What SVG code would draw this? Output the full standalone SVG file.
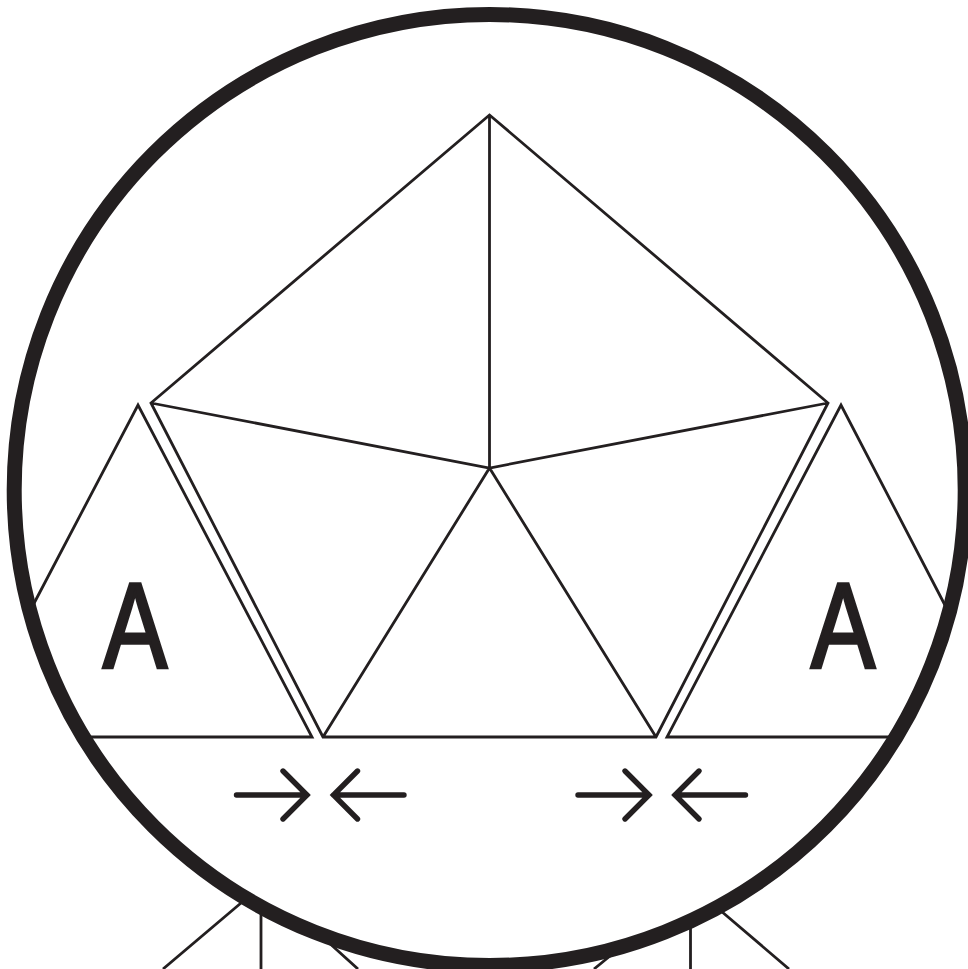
<svg xmlns="http://www.w3.org/2000/svg" width="968" height="969" viewBox="0 0 968 969">
<style>
.l{fill:none;stroke:#231f20;stroke-width:2.8;stroke-linejoin:miter}
.a{fill:none;stroke:#231f20;stroke-width:5.4;stroke-linecap:round;stroke-linejoin:miter}
.t{font-family:"Liberation Sans",Arial,sans-serif;font-size:120px;fill:#231f20;stroke:#231f20;stroke-width:3.4;text-anchor:middle}
</style>
<rect width="968" height="969" fill="#fff"/>
<g id="connectors">
<path class="l" d="M163 969L241 903M261 912V969M327 941L358 969M594 969L610 956M690.500 925V969M721 911L789 969"/>
</g>
<g id="pentagon">
<path class="l" d="M489.500 115L151 403L323 737H656L828 403ZM489.500 115V468M151 403L489.500 468L828 403M323 737L489.500 468L656 737"/>
</g>
<g id="triangle-left">
<path class="l" d="M30 611L138 405L312 737H85"/>
<text class="t" transform="translate(135 666.500) scale(.8 1)">A</text>
</g>
<g id="triangle-right">
<path class="l" d="M948 611L841 405L667 737H894"/>
<text class="t" transform="translate(843 666.500) scale(.8 1)">A</text>
</g>
<g id="arrows">
<path class="a" d="M236.500 795H307M283 771L307 795L283 819M404 795H333.500M357.500 771L333.500 795L357.500 819"/>
<path class="a" d="M578 795H649M625 771L649 795L625 819M745.500 795H675M699 771L675 795L699 819"/>
</g>
<circle id="lens" cx="489.700" cy="490" r="475.500" fill="none" stroke="#231f20" stroke-width="15"/>
</svg>
